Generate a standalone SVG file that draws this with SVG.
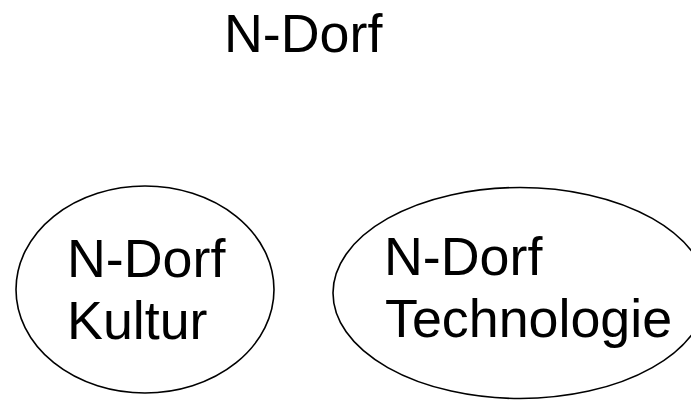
<svg xmlns="http://www.w3.org/2000/svg" width="691" height="410" viewBox="0 0 691 410">
<style>
text{font-family:"Liberation Sans",Arial,sans-serif;font-size:53.8px;fill:#000}
.node{fill:#fff;stroke:#000;stroke-width:1.6}
</style>
<rect width="691" height="410" fill="#fff"/>
<g id="title"><text x="224" y="52">N-Dorf</text></g>
<g id="connectors"></g>
<g id="kultur">
<ellipse class="node" cx="145" cy="289.5" rx="129" ry="103.5"/>
<text x="67" y="277">N-Dorf</text>
<text x="67" y="339">Kultur</text>
</g>
<g id="technologie">
<ellipse class="node" cx="520" cy="293" rx="187" ry="105.5"/>
<text x="384" y="275">N-Dorf</text>
<text x="385" y="337">Technologie</text>
</g>
</svg>
